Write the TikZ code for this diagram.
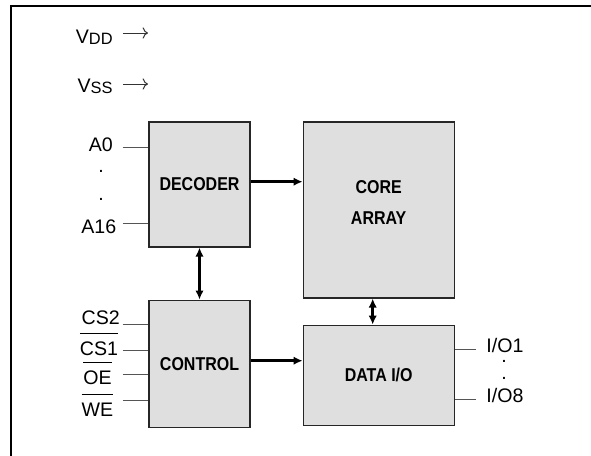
\documentclass[tikz,border=0pt]{standalone}
\usepackage{fontspec}
\setmainfont{Liberation Sans}
\newfontfamily\blockfont{Liberation Sans Bold}[FakeStretch=0.86]
\usepackage{tikz}
\usetikzlibrary{arrows.meta, calc, positioning}
\definecolor{BoxGray}{HTML}{DFDFDF}
\definecolor{WireGray}{HTML}{555555}
\newcommand{\nbar}[1]{\vbox{\hrule height 0.5pt\kern 3.8pt\hbox{#1}}}
\newcommand{\sub}[1]{\raisebox{-0.8pt}{\fontsize{8.2}{9}\selectfont #1}}

\begin{document}
\begin{tikzpicture}[x=0.5pt, y=-0.5pt,
block/.style={
	rectangle,
	draw=black!85,
	line width=0.6pt,
	fill=BoxGray,
	inner sep=0pt,
	align=center,
	font=\blockfont\fontsize{9.3}{15.5}\selectfont},
post/.style={
	->,
	draw,
	>={Latex[length=4.5pt,width=4.2pt]},
	line width=1.5pt,
	color=black},
both/.style={
	<->,
	draw,
	>={Latex[length=4.5pt,width=4.2pt]},
	line width=1.5pt,
	color=black},
wire/.style={
	line width=0.5pt,
	color=WireGray},
pwr/.style={
	->,
	line width=0.5pt,
	color=black!80},
sig/.style={
	inner sep=0pt,
	font=\fontsize{9.8}{11}\selectfont}]

\useasboundingbox (0,0) rectangle (591,456);
\draw[line width=1.1pt] (11,6) rectangle (640,500);

%Blocks
\node[block, minimum width=50.5pt, minimum height=62.5pt] (dec) at (199.5,184.5) {DECODER};
\node[block, minimum width=75.5pt, minimum height=88pt, right=26pt of dec.north east, anchor=north west,
	label={[block, draw=none, fill=none, yshift=3.75pt]center:CORE\\ARRAY}] (core) {};
\node[block, minimum width=50.5pt, minimum height=63.5pt, below=26pt of dec] (ctrl) {CONTROL};
\node[block, minimum width=75.5pt, minimum height=50pt, below=13pt of core] (data) {DATA I/O};

\path[post] ([yshift=1.4pt]dec.east) -- ([yshift=1.4pt]dec.east -| core.west);
\path[post] ([yshift=1.5pt]ctrl.east) -- ([yshift=1.5pt]ctrl.east -| data.west);
\path[both] (dec) -- (ctrl);
\path[both] ([xshift=-3pt]core.south) -- ([xshift=-3pt]core.south |- data.north);

%Supply
\node[sig, anchor=base east] (VDD) at (113,43.3) {V\sub{DD}};
\node[sig, anchor=base east] (VSS) at (113,92.3) {V\sub{SS}};
\coordinate (vddS) at (123,33);
\coordinate (vddE) at (148,33);
\coordinate (vssS) at (123,84);
\coordinate (vssE) at (148,84);
\draw[pwr] (vddS) -- (vddE);
\draw[pwr] (vssS) -- (vssE);

%Inputs
\foreach \w/\yy in {a0/147,a16/223,cs2/324,cs1/350,oe/374,we/400}{
	\coordinate (\w) at (123,\yy);
	\draw[wire] (\w) -- (\w -| dec.west);
}
\node[sig, anchor=base] (A0) at (100.8,151.7) {A0};
\node[sig] (ad1) at (101,171.7) {.};
\node[sig] (ad2) at (101,199.3) {.};
\node[sig, anchor=base] (A16) at (98.8,233.3) {A16};
\node[sig, anchor=base] (CS2) at (100.8,324.3) {CS2};
\node[sig, anchor=base] (CS1) at (99,355.7) {\nbar{CS1}};
\node[sig, anchor=base] (OE) at (97.5,384) {\nbar{OE}};
\node[sig, anchor=base] (WE) at (97.5,416) {\nbar{WE}};

%Outputs
\foreach \w/\yy in {io1/349,io8/399}{
	\coordinate (\w) at (476,\yy);
	\draw[wire] (\w) -- (\w -| data.east);
}
\node[sig, anchor=base west] (IO1) at (486,352.3) {I/O1};
\node[sig] (od1) at (504,361) {.};
\node[sig] (od2) at (504,378) {.};
\node[sig, anchor=base west] (IO8) at (486,402.5) {I/O8};
\end{tikzpicture}
\end{document}
